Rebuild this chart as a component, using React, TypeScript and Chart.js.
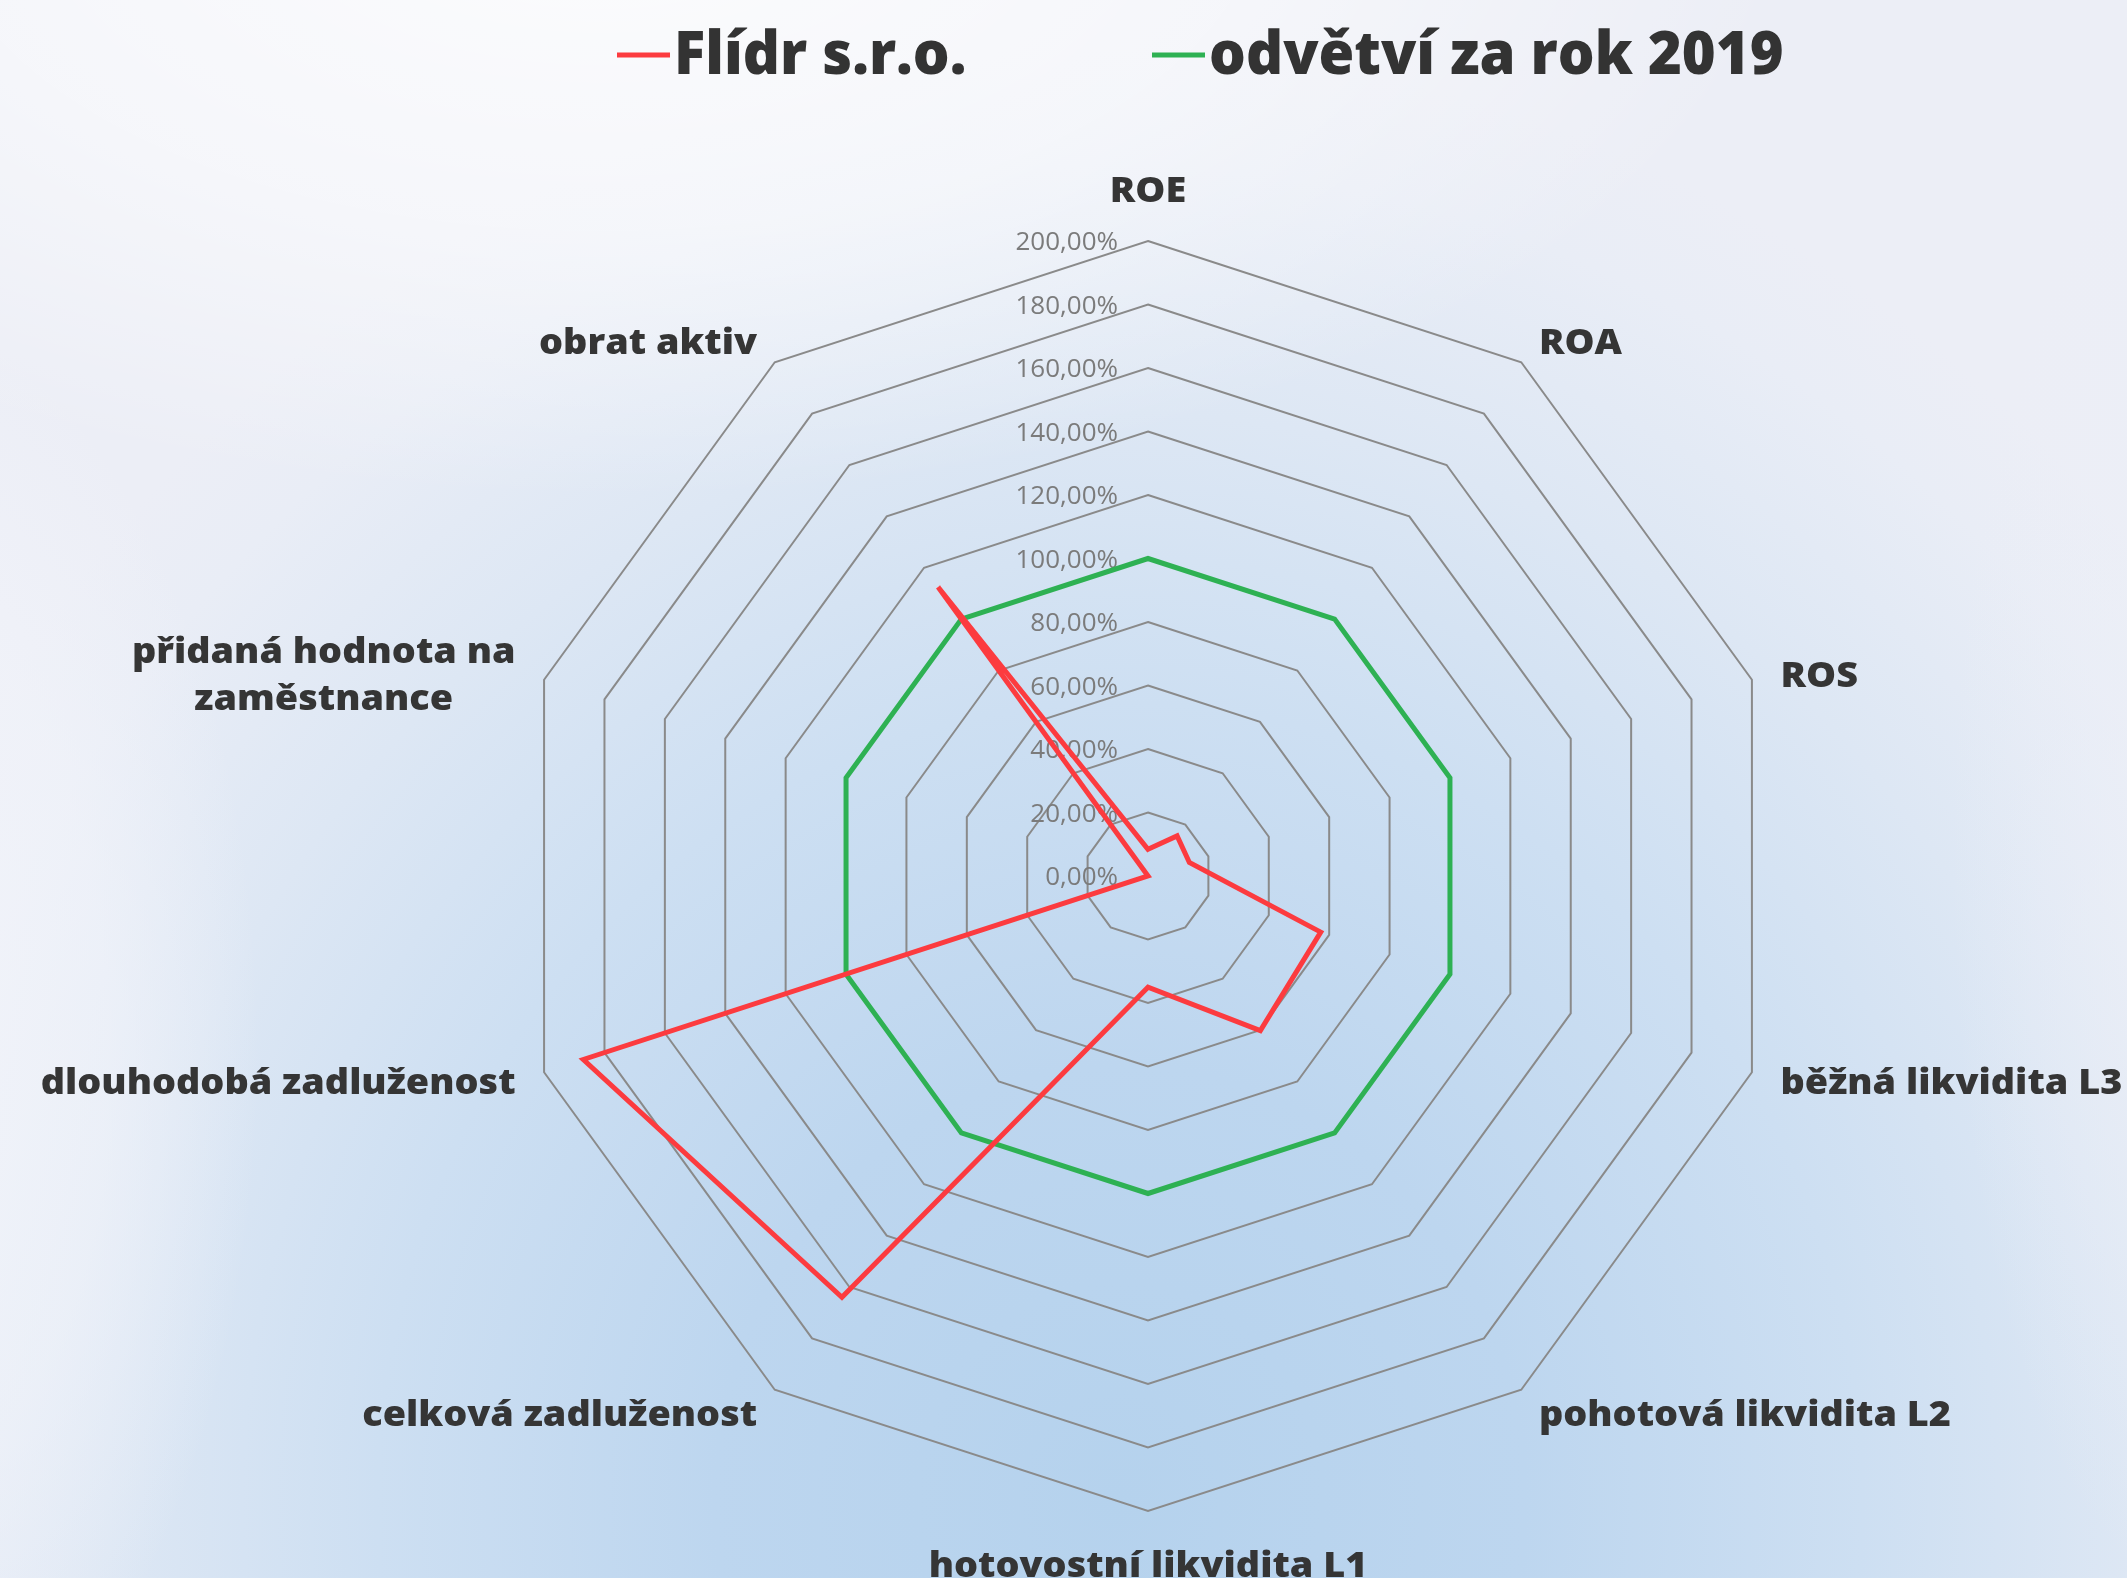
import React, { useEffect, useRef } from "react";
import { Chart, registerables } from "chart.js";

Chart.register(...registerables);

const categories: string[][] = [
  ["ROE"],
  ["ROA"],
  ["ROS"],
  ["běžná likvidita L3"],
  ["pohotová likvidita L2"],
  ["hotovostní likvidita L1"],
  ["celková zadluženost"],
  ["dlouhodobá zadluženost"],
  ["přidaná hodnota na", "zaměstnance"],
  ["obrat aktiv"],
];

const flidrValues = [8.4, 15.6, 13.7, 57.2, 60.2, 35.0, 164.0, 187.0, 0.0, 112.5];
const odvetviValues = [100, 100, 100, 100, 100, 100, 100, 100, 100, 100];

const seriesNames = ["Flídr s.r.o.", "odvětví za rok 2019"];
const seriesColors = ["#fc3b3f", "#2eb153"];

const tickValues = [0, 20, 40, 60, 80, 100, 120, 140, 160, 180, 200];

const fmtPct = (v: number) => v.toFixed(2).replace(".", ",") + "%";

const W = 2127;
const H = 1578;

const decorPlugin = {
  id: "decor",
  beforeDatasetsDraw(chart: any) {
    const ctx = chart.ctx;
    const s = chart.scales.r;
    ctx.save();
    ctx.font = '26px "Open Sans"';
    ctx.fillStyle = "#7b7b7b";
    ctx.textAlign = "right";
    ctx.textBaseline = "middle";
    tickValues.forEach((v) => {
      const d = s.getDistanceFromCenterForValue(v);
      ctx.fillText(fmtPct(v), s.xCenter - 30, s.yCenter - d + 2);
    });
    ctx.restore();
  },
  afterDraw(chart: any) {
    const ctx = chart.ctx;
    const s = chart.scales.r;
    ctx.save();
    const fontSize = 36;
    const lineH = 47;
    const sx = 1.05;
    ctx.font = `800 ${fontSize}px "Open Sans"`;
    ctx.fillStyle = "#353535";
    ctx.textBaseline = "middle";
    const n = categories.length;
    for (let i = 0; i < n; i++) {
      const lines = categories[i];
      const p = s.getPointPosition(i, s.drawingArea + 30);
      const blockW = sx * Math.max(...lines.map((l) => ctx.measureText(l).width));
      const blockH = lines.length * lineH;
      let cx: number;
      const eps = 2;
      if (Math.abs(p.x - s.xCenter) < eps) cx = p.x;
      else if (p.x > s.xCenter) cx = p.x + blockW / 2;
      else cx = p.x - blockW / 2;
      let top: number;
      if (i === 0) top = p.y - blockH + 4;
      else if (Math.abs(p.x - s.xCenter) < eps && p.y > s.yCenter) top = p.y + 2;
      else top = p.y - blockH / 2 + (p.y < s.yCenter ? 6 : 2);
      ctx.textAlign = "center";
      lines.forEach((l, k) => {
        ctx.save();
        ctx.translate(cx, top + lineH * k + lineH / 2);
        ctx.scale(sx, 1);
        ctx.fillText(l, 0, 0);
        ctx.restore();
      });
    }
    ctx.font = `800 60px "Open Sans"`;
    ctx.textAlign = "left";
    ctx.fillStyle = "#333333";
    const legendX = [617, 1152];
    const legendY = 55;
    seriesNames.forEach((name, k) => {
      ctx.strokeStyle = seriesColors[k];
      ctx.lineWidth = 5;
      ctx.beginPath();
      ctx.moveTo(legendX[k], legendY);
      ctx.lineTo(legendX[k] + 53, legendY);
      ctx.stroke();
      ctx.save();
      ctx.translate(legendX[k] + 57, legendY + 2);
      ctx.scale(0.965, 1);
      ctx.fillText(name, 0, 0);
      ctx.restore();
    });
    ctx.restore();
  },
};

export default function App() {
  const ref = useRef<HTMLCanvasElement | null>(null);
  useEffect(() => {
    document.body.style.margin = "0";
    const canvas = ref.current!;
    const chart = new Chart(canvas, {
      type: "radar",
      data: {
        labels: categories.map((c) => c.join(" ")),
        datasets: [
          {
            label: seriesNames[0],
            data: flidrValues,
            borderColor: seriesColors[0],
            backgroundColor: "transparent",
            borderWidth: 5,
            pointRadius: 0,
            fill: false,
          },
          {
            label: seriesNames[1],
            data: odvetviValues,
            borderColor: seriesColors[1],
            backgroundColor: "transparent",
            borderWidth: 5,
            pointRadius: 0,
            fill: false,
          },
        ],
      },
      options: {
        responsive: false,
        animation: false,
        layout: { padding: { left: 513, top: 241, right: 344, bottom: 67 } },
        plugins: { legend: { display: false }, tooltip: { enabled: false } },
        scales: {
          r: {
            min: 0,
            max: 200,
            ticks: { stepSize: 20, display: false },
            grid: { color: "#8a8a8a", lineWidth: 2 },
            angleLines: { display: false },
            pointLabels: { display: false },
          },
        },
      },
      plugins: [decorPlugin],
    });
    return () => chart.destroy();
  }, []);
  return (
    <div
      style={{
        width: W,
        height: H,
        position: "relative",
        overflow: "hidden",
        background:
          "radial-gradient(ellipse 1350px 1450px at 1120px 1500px, #b5d2ed 0%, #bdd6ef 30%, #cddff2 55%, #dde7f4 75%, #e9edf6 92%, #eceef6 100%)",
      }}
    >
      <div
        style={{
          position: "absolute",
          left: -600,
          top: -700,
          width: 2400,
          height: 1200,
          background:
            "radial-gradient(closest-side, rgba(255,255,255,0.85) 0%, rgba(255,255,255,0.5) 55%, rgba(255,255,255,0) 100%)",
        }}
      />
      <div
        style={{
          position: "absolute",
          left: -500,
          top: 300,
          width: 760,
          height: 1500,
          background:
            "radial-gradient(closest-side, rgba(242,244,250,0.95) 0%, rgba(242,244,250,0.6) 60%, rgba(242,244,250,0) 100%)",
        }}
      />
      <div
        style={{
          position: "absolute",
          left: 1950,
          top: 100,
          width: 500,
          height: 1500,
          background:
            "radial-gradient(closest-side, rgba(236,239,247,0.9) 0%, rgba(236,239,247,0) 100%)",
        }}
      />
      <canvas
        ref={ref}
        width={W}
        height={H}
        style={{ position: "absolute", left: 0, top: 0, width: W, height: H, display: "block" }}
      />
    </div>
  );
}
